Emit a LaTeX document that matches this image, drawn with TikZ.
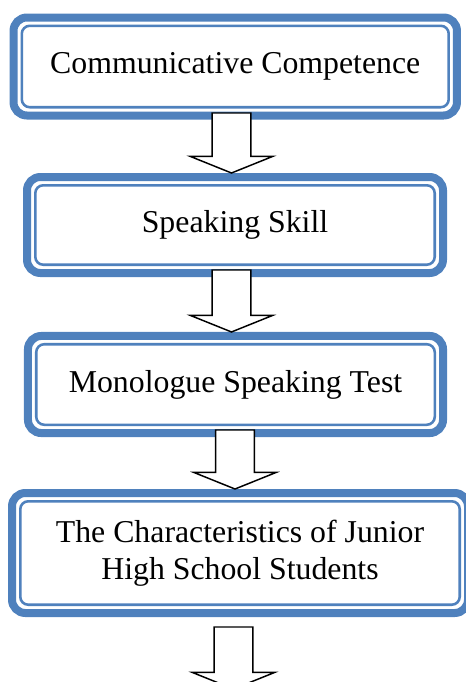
\documentclass[tikz,border=0pt]{standalone}
\usepackage{fontspec}
\setmainfont{Liberation Serif}
\usetikzlibrary{calc}
\definecolor{frameblue}{RGB}{79,129,189}

\begin{document}
\begin{tikzpicture}[
  x=0.75pt, y=-0.75pt,
  box/.style={rectangle, rounded corners=10pt, draw=frameblue, line width=6pt,
              fill=white, align=center, inner sep=0pt, outer sep=3pt,
              font=\fontsize{23.85}{27.6}\selectfont},
  innerline/.style={draw=frameblue, line width=1.9pt, rounded corners=6pt},
  blockarrow/.style={draw=black, fill=white, line width=1.1pt, line join=miter,
    to path={let \p1=(\tikztostart), \p2=(\tikztotarget) in
      (\x1-14.6pt,\y1) -- (\x1+14.6pt,\y1) -- (\x1+14.6pt,\y2+12.4pt)
      -- (\x1+30.8pt,\y2+12.4pt) -- (\x1,\y2) -- (\x1-30.8pt,\y2+12.4pt)
      -- (\x1-14.6pt,\y2+12.4pt) -- cycle}}
]
\useasboundingbox (0,0) rectangle (465,682);

\node[box, minimum width=332.6pt, minimum height=73.5pt] (comm)   at (235.25,66.5) {Communicative Competence};
\node[box, minimum width=312pt,   minimum height=72pt]   (speak)  at (235,225)     {Speaking Skill};
\node[box, minimum width=311.3pt, minimum height=72.8pt] (mono)   at (235.5,384.5) {Monologue Speaking Test};
\node[box, minimum width=342pt,   minimum height=90pt]   (junior) at (240,553)     {The Characteristics of Junior\\High School Students};

% thin line inside each frame
\foreach \n in {comm,speak,mono,junior}
  \draw[innerline] ([shift={(9.2pt,-9.2pt)}]\n.north west) rectangle ([shift={(-9.2pt,9.2pt)}]\n.south east);

% tails of the hollow arrows
\coordinate (a1) at (231.5,113);
\coordinate (a2) at (231.5,270);
\coordinate (a3) at (235,430);
\coordinate (a4) at (233.5,627);
\coordinate (end) at (233.5,689);

\draw[blockarrow] (a1) to (speak.north);
\draw[blockarrow] (a2) to (mono.north);
\draw[blockarrow] (a3) to (junior.north);
\draw[blockarrow] (a4) to (end);

\end{tikzpicture}
\end{document}
